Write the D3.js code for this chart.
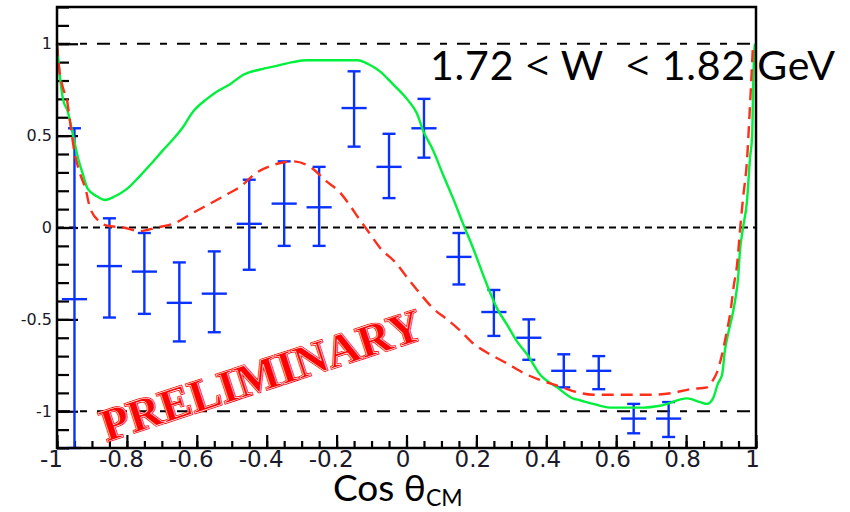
<!DOCTYPE html>
<html>
<head>
<meta charset="utf-8">
<script src="https://cdn.jsdelivr.net/npm/d3@7"></script>
<style>
  body { margin: 0; background: #fff; }
  svg { display: block; }
</style>
</head>
<body>
<div id="chart"></div>
<script>
// data points (bin centres, value, error bar ends)
const cosBins = [-0.95, -0.85, -0.75, -0.65, -0.55, -0.45, -0.35, -0.25, -0.15, -0.05,
                 0.05, 0.15, 0.25, 0.35, 0.45, 0.55, 0.65, 0.75];
const pointVal = [-0.39, -0.21, -0.24, -0.41, -0.36, 0.02, 0.13, 0.11, 0.65, 0.33,
                  0.54, -0.16, -0.46, -0.60, -0.78, -0.78, -1.04, -1.04];
const errHigh = [0.54, 0.05, -0.03, -0.19, -0.13, 0.26, 0.36, 0.33, 0.85, 0.51,
                 0.70, -0.03, -0.34, -0.50, -0.69, -0.70, -0.96, -0.95];
const errLow = [-1.35, -0.49, -0.47, -0.62, -0.57, -0.23, -0.10, -0.10, 0.44, 0.16,
                0.38, -0.31, -0.59, -0.72, -0.87, -0.88, -1.12, -1.14];

// green model curve
const greenX = [-1.0, -0.991, -0.983, -0.969, -0.954, -0.94, -0.926, -0.912, -0.886, -0.863,
  -0.834, -0.8, -0.763, -0.734, -0.697, -0.668, -0.642, -0.611, -0.571, -0.542,
  -0.505, -0.468, -0.419, -0.371, -0.325, -0.285, -0.139, -0.11, -0.076, -0.039,
  0.001, 0.03, 0.047, 0.076, 0.104, 0.133, 0.162, 0.19, 0.23, 0.259,
  0.288, 0.316, 0.345, 0.382, 0.431, 0.476, 0.496, 0.534, 0.582, 0.677,
  0.725, 0.803, 0.84, 0.86, 0.877, 0.891, 0.903, 0.911, 0.92, 0.931,
  0.94, 0.949, 0.954, 0.963, 0.974, 0.983, 0.989, 0.991, 0.993, 0.997];
const greenY = [1.0, 0.81, 0.70, 0.63, 0.50, 0.38, 0.29, 0.21, 0.17, 0.15,
  0.17, 0.21, 0.28, 0.34, 0.42, 0.48, 0.54, 0.63, 0.70, 0.74,
  0.78, 0.83, 0.86, 0.88, 0.90, 0.91, 0.91, 0.89, 0.85, 0.78,
  0.70, 0.62, 0.53, 0.42, 0.29, 0.16, 0.02, -0.11, -0.31, -0.44,
  -0.53, -0.62, -0.69, -0.80, -0.87, -0.93, -0.94, -0.96, -0.98, -0.98,
  -0.97, -0.93, -0.95, -0.96, -0.93, -0.85, -0.80, -0.67, -0.58, -0.49,
  -0.40, -0.27, -0.13, 0.00, 0.14, 0.38, 0.50, 0.68, 0.86, 1.0];

// red dashed model curve
const redX = [-1.0, -0.994, -0.983, -0.971, -0.963, -0.949, -0.937, -0.917, -0.906, -0.877,
  -0.857, -0.811, -0.763, -0.714, -0.668, -0.611, -0.562, -0.514, -0.477, -0.428,
  -0.382, -0.325, -0.276, -0.228, -0.19, -0.162, -0.133, -0.11, -0.076, -0.027,
  0.001, 0.039, 0.076, 0.116, 0.153, 0.19, 0.239, 0.288, 0.333, 0.382,
  0.431, 0.476, 0.534, 0.705, 0.763, 0.811, 0.86, 0.874, 0.888, 0.903,
  0.917, 0.926, 0.937, 0.946, 0.954, 0.963, 0.974, 0.983, 0.991];
const redY = [1.0, 0.87, 0.76, 0.69, 0.58, 0.40, 0.31, 0.20, 0.11, 0.03,
  0.01, 0.00, -0.02, 0.00, 0.02, 0.08, 0.13, 0.18, 0.22, 0.30,
  0.34, 0.36, 0.33, 0.25, 0.19, 0.12, 0.04, -0.02, -0.11, -0.20,
  -0.27, -0.36, -0.44, -0.50, -0.56, -0.63, -0.69, -0.74, -0.79, -0.83,
  -0.86, -0.89, -0.91, -0.91, -0.90, -0.88, -0.87, -0.84, -0.79, -0.69,
  -0.56, -0.47, -0.31, -0.20, -0.02, 0.16, 0.36, 0.67, 0.98];

const refLines = [1, 0, -1];
const xTickLabels = [-1, -0.8, -0.6, -0.4, -0.2, 0, 0.2, 0.4, 0.6, 0.8, 1];
const yTickLabels = [-1, -0.5, 0, 0.5, 1];

const W = 850, H = 512;
const pLeft = 57, pRight = 756, pTop = 7, pBottom = 448;

const x = d3.scaleLinear().domain([-1, 1]).range([pLeft, pRight]);
const y = d3.scaleLinear().domain([-1.2, 1.2]).range([pBottom, pTop]);

const svg = d3.select("#chart")
  .append("svg")
  .attr("width", W)
  .attr("height", H);

// reference lines
svg.selectAll(".ref")
  .data(refLines)
  .enter()
  .append("line")
  .attr("class", "ref")
  .attr("x1", pLeft)
  .attr("x2", pRight)
  .attr("y1", (d) => y(d))
  .attr("y2", (d) => y(d))
  .attr("stroke", "#000")
  .attr("stroke-width", 2.2)
  .attr("stroke-dasharray", (d) => (d === 0 ? "7,5" : "13,10,7,10"));

// minor ticks
const xMinor = d3.range(-1, 1.0001, 0.05);
const yMinor = d3.range(-1.2, 1.2001, 0.1);

svg.append("g")
  .attr("transform", "translate(0," + pBottom + ")")
  .call(d3.axisBottom(x).tickValues(xMinor).tickSize(-7).tickFormat(""))
  .call((g) => g.select(".domain").remove())
  .selectAll("line").attr("stroke-width", 2.2);

svg.append("g")
  .attr("transform", "translate(" + pLeft + ",0)")
  .call(d3.axisLeft(y).tickValues(yMinor).tickSize(-12).tickFormat(""))
  .call((g) => g.select(".domain").remove())
  .selectAll("line").attr("stroke-width", 2.2);

// major ticks + labels (plain hyphen for the minus sign, like the original)
const xAxis = svg.append("g")
  .attr("transform", "translate(0," + pBottom + ")")
  .call(d3.axisBottom(x).tickValues(xTickLabels).tickSize(-13).tickPadding(3)
    .tickFormat((d) => String(d)))
  .call((g) => g.select(".domain").remove());
xAxis.selectAll("line").attr("stroke-width", 2.2);
xAxis.selectAll("text")
  .attr("font-family", "DejaVu Sans, sans-serif")
  .attr("font-size", 23)
  .attr("fill", "#1a1a2a")
  .attr("dx", (d) => (d < 0 ? -6 : -4));

const yAxis = svg.append("g")
  .attr("transform", "translate(" + pLeft + ",0)")
  .call(d3.axisLeft(y).tickValues(yTickLabels).tickSize(-21).tickPadding(5)
    .tickFormat((d) => String(d)))
  .call((g) => g.select(".domain").remove());
yAxis.selectAll("line").attr("stroke-width", 2.2);
yAxis.selectAll("text")
  .attr("font-family", "DejaVu Sans, sans-serif")
  .attr("font-size", 16)
  .attr("fill", "#1a1a2a");

// data points with error bars
const points = cosBins.map((c, i) => ({
  x: c, v: pointVal[i], hi: errHigh[i], lo: Math.max(errLow[i], -1.2)
}));
const blue = "#0a32ff";
const xHalf = 0.036;
const capHalf = 6.5;
const pg = svg.append("g")
  .attr("stroke", blue)
  .attr("stroke-width", 2.4);

pg.selectAll(".stem").data(points).enter().append("line")
  .attr("x1", (d) => x(d.x)).attr("x2", (d) => x(d.x))
  .attr("y1", (d) => y(d.hi)).attr("y2", (d) => y(d.lo));
pg.selectAll(".xerr").data(points).enter().append("line")
  .attr("x1", (d) => x(d.x - xHalf)).attr("x2", (d) => x(d.x + xHalf))
  .attr("y1", (d) => y(d.v)).attr("y2", (d) => y(d.v));
pg.selectAll(".caphi").data(points).enter().append("line")
  .attr("x1", (d) => x(d.x) - capHalf).attr("x2", (d) => x(d.x) + capHalf)
  .attr("y1", (d) => y(d.hi)).attr("y2", (d) => y(d.hi));
pg.selectAll(".caplo").data(points).enter().append("line")
  .attr("x1", (d) => x(d.x) - capHalf).attr("x2", (d) => x(d.x) + capHalf)
  .attr("y1", (d) => y(d.lo)).attr("y2", (d) => y(d.lo));

// model curves
const line = d3.line()
  .x((d) => x(d[0]))
  .y((d) => y(d[1]))
  .curve(d3.curveMonotoneX);

svg.append("path")
  .datum(d3.zip(greenX, greenY))
  .attr("d", line)
  .attr("fill", "none")
  .attr("stroke", "#00f03c")
  .attr("stroke-width", 2.4);

svg.append("path")
  .datum(d3.zip(redX, redY))
  .attr("d", line)
  .attr("fill", "none")
  .attr("stroke", "#ff2e1a")
  .attr("stroke-width", 2.4)
  .attr("stroke-dasharray", "12,7");

// frame
svg.append("rect")
  .attr("x", pLeft)
  .attr("y", pTop)
  .attr("width", pRight - pLeft)
  .attr("height", pBottom - pTop)
  .attr("fill", "none")
  .attr("stroke", "#000")
  .attr("stroke-width", 2.5);

// PRELIMINARY stamp
const stamp = svg.append("g")
  .attr("transform", "translate(266,390) rotate(-18)");
["#ff0000", "#ffffff"].forEach((c, i) => {
  stamp.append("text")
    .attr("text-anchor", "middle")
    .attr("font-family", "Liberation Serif, serif")
    .attr("font-weight", "bold")
    .attr("font-size", 46)
    .attr("textLength", 335)
    .attr("lengthAdjust", "spacingAndGlyphs")
    .attr("fill", "#ff0000")
    .attr("stroke", c)
    .attr("stroke-width", i === 0 ? 2.2 : 0.6)
    .text("PRELIMINARY");
});

// W range label ("<" taken from a font with a fuller glyph)
const wl = svg.append("text")
  .attr("x", 430)
  .attr("y", 80)
  .attr("font-family", "Lato, sans-serif")
  .attr("font-size", 41)
  .attr("fill", "#000")
  .attr("textLength", 405)
  .attr("lengthAdjust", "spacing")
  .style("white-space", "pre");
[["1.72 ", null], ["<", "Open Sans"], [" W  ", null], ["<", "Open Sans"], [" 1.82 GeV", null]]
  .forEach(([t, f]) => {
    const ts = wl.append("tspan").text(t);
    if (f) ts.attr("font-family", f);
  });

// x axis title
const xt = svg.append("text")
  .attr("x", 333)
  .attr("y", 501)
  .attr("font-family", "Lato, sans-serif")
  .attr("font-size", 37)
  .attr("fill", "#000");
xt.append("tspan").text("Cos θ");
xt.append("tspan")
  .attr("font-size", 23)
  .attr("dy", 5)
  .text("CM");
</script>
</body>
</html>
